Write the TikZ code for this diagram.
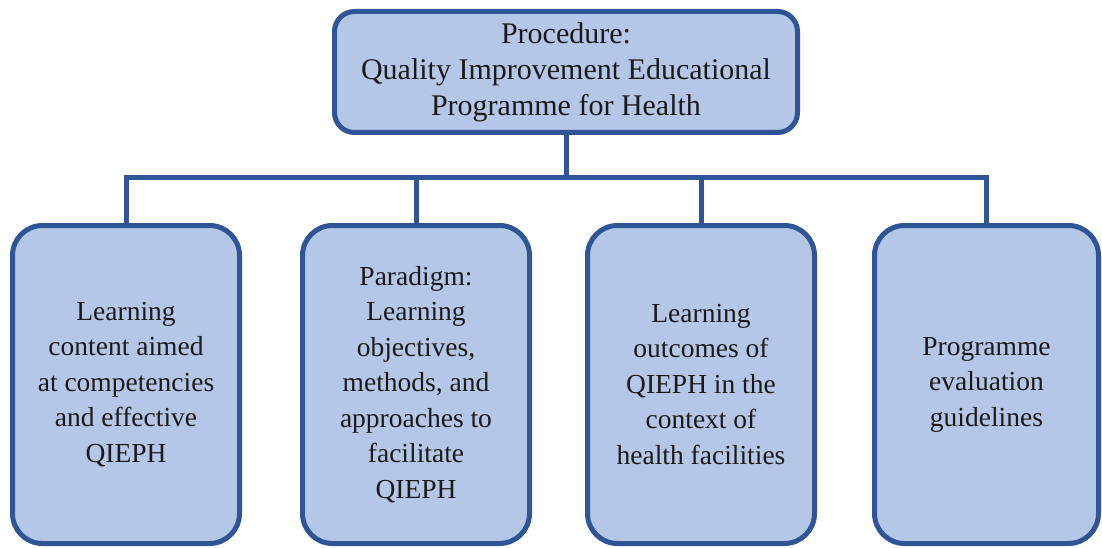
\documentclass[tikz,border=0pt]{standalone}
\usepackage{fontspec}
\setmainfont{Liberation Serif}
\definecolor{boxfill}{HTML}{B4C7E7}
\definecolor{boxline}{HTML}{2F5597}
\definecolor{txt}{HTML}{1A1A1A}
\begin{document}
\begin{tikzpicture}[x=1pt,y=-1pt,
  topbox/.style={draw=boxline, fill=boxfill, line width=5pt, rounded corners=20pt,
    minimum width=463pt, minimum height=121pt, inner sep=0pt, outer sep=0pt,
    align=center, text=txt, font=\fontsize{30}{36}\selectfont},
  subbox/.style={draw=boxline, fill=boxfill, line width=5pt, rounded corners=30pt,
    minimum width=227pt, minimum height=318pt, inner sep=0pt, outer sep=0pt,
    align=center, text=txt, font=\fontsize{27.5}{35.5}\selectfont},
  conn/.style={draw=boxline, line width=5pt}]
\useasboundingbox (0,0) rectangle (1102,548);
\node[topbox] (top) at (566,72) {Procedure:\\Quality Improvement Educational\\Programme for Health};
\node[subbox] (b1) at (126,384.5) {Learning\\content aimed\\at competencies\\and effective\\QIEPH};
\node[subbox] (b2) at (416,384.5) {Paradigm:\\Learning\\objectives,\\methods, and\\approaches to\\facilitate\\QIEPH};
\node[subbox] (b3) at (701,384.5) {Learning\\outcomes of\\QIEPH in the\\context of\\health facilities};
\node[subbox, minimum width=224pt] (b4) at (986.5,384.5) {Programme\\evaluation\\guidelines};
\coordinate (bus) at (566,178);
\begin{scope}[on background layer/.try]
\end{scope}
\draw[conn] (top.south) -- (top.south |- bus);
\draw[conn] (b1.north) -- (b1.north |- bus) -- (b4.north |- bus) -- (b4.north);
\draw[conn] (b2.north) -- (b2.north |- bus);
\draw[conn] (b3.north) -- (b3.north |- bus);
\end{tikzpicture}
\end{document}
